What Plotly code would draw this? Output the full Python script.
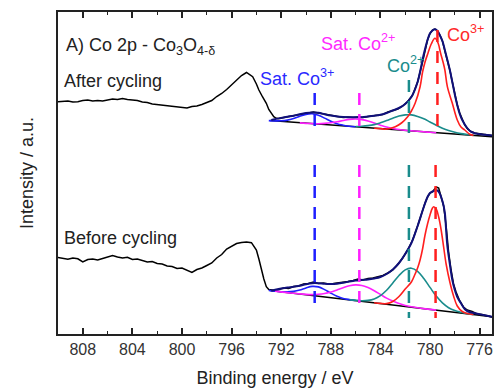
import plotly.graph_objects as go

# ---------------- data (binding energy in eV, intensity in a.u.) ----------------
# Before cycling: raw spectrum
be_raw_before = [810.0, 809.6, 809.2, 808.8, 808.4, 808.0, 807.6, 807.2, 806.8, 806.4, 806.0, 805.6,
                 805.2, 804.8, 804.4, 804.0, 803.6, 803.2, 802.8, 802.4, 802.0, 801.6, 801.2, 800.8,
                 800.4, 800.0, 799.6, 799.2, 798.8, 798.4, 798.0, 797.6, 797.2, 796.8, 796.4, 796.0,
                 795.6, 795.2, 794.8, 794.4, 794.0, 793.8, 793.6, 793.4, 793.2, 793.0, 792.6, 792.2,
                 791.8, 791.4, 791.0, 790.6, 790.2, 789.8, 789.4, 789.0, 788.6, 788.2, 787.8, 787.4,
                 787.0, 786.6, 786.2, 785.8, 785.4, 785.0, 784.6, 784.2, 783.8, 783.4, 783.0, 782.6,
                 782.2, 781.8, 781.4, 781.0, 780.6, 780.4, 780.2, 780.0, 779.8, 779.6, 779.5, 779.3,
                 779.1, 778.9, 778.7, 778.5, 778.3, 778.1, 777.9, 777.6, 777.3, 777.0, 776.6, 776.2,
                 775.8, 775.4, 775.0]
int_raw_before = [76.5, 75.5, 74.7, 76.0, 75.2, 72.0, 74.5, 75.0, 74.0, 75.5, 76.7, 78.5,
                  77.0, 76.0, 76.8, 74.5, 75.0, 73.5, 72.0, 72.5, 70.5, 70.0, 68.0, 67.5,
                  65.5, 66.0, 63.5, 61.5, 64.5, 66.0, 68.5, 71.0, 76.0, 79.5, 85.0, 88.0,
                  90.5, 91.5, 92.0, 91.3, 84.0, 75.0, 64.0, 55.0, 47.3, 44.5, 43.8, 44.5,
                  46.0, 45.5, 47.5, 48.0, 50.0, 50.5, 52.0, 50.5, 51.0, 50.0, 50.5, 51.0,
                  52.0, 52.5, 53.5, 55.0, 54.0, 55.5, 56.0, 57.5, 58.5, 61.0, 64.0, 69.5,
                  76.0, 84.0, 94.0, 108.0, 124.0, 131.0, 137.0, 141.0, 142.0, 145.0, 147.0, 146.0,
                  138.0, 128.0, 108.0, 82.0, 64.0, 50.0, 42.0, 33.0, 27.0, 24.0, 22.5, 20.0,
                  19.5, 18.0, 17.0]

# Before cycling: fit envelope
be_env_before = [792.8, 792.4, 792.0, 791.5, 791.0, 790.5, 790.0, 789.5, 789.0, 788.5, 788.0, 787.5,
                 787.0, 786.5, 786.0, 785.5, 785.0, 784.5, 784.0, 783.5, 783.0, 782.5, 782.0, 781.5,
                 781.0, 780.5, 780.2, 780.0, 779.7, 779.4, 779.2, 779.0, 778.9, 778.8, 778.7, 778.6,
                 778.4, 778.2, 778.0, 777.8, 777.5, 777.2, 777.0, 776.5, 776.0, 775.5, 775.0]
int_env_before = [43.3, 44.5, 45.5, 46.5, 47.2, 48.3, 49.8, 50.8, 50.8, 50.2, 50.0, 50.3,
                  51.2, 52.5, 53.5, 54.0, 54.5, 55.5, 57.0, 60.0, 64.5, 71.0, 80.0, 91.0,
                  108.0, 127.0, 137.0, 141.0, 143.0, 143.5, 140.0, 133.0, 128.0, 121.0, 104.0, 88.0,
                  70.0, 54.0, 44.0, 37.0, 30.7, 25.0, 23.0, 21.0, 19.8, 18.5, 17.3]

# Before cycling: background
be_bg_before = [792.9, 775.0]
int_bg_before = [43.5, 17.3]

# Before cycling: components
be_sat3_before = [793.0, 792.5, 792.0, 791.5, 791.0, 790.5, 790.0, 789.5, 789.0, 788.5, 788.0, 787.5,
                  787.0, 786.5, 786.0]
int_sat3_before = [43.6, 42.9, 42.3, 42.1, 42.6, 44.0, 46.1, 47.6, 47.1, 44.4, 40.9, 37.8,
                   35.6, 34.4, 33.5]

be_sat2_before = [792.5, 791.5, 791.0, 790.5, 790.0, 789.5, 789.0, 788.5, 788.0, 787.5, 787.0, 786.5,
                  786.0, 785.5, 785.0, 784.5, 784.0, 783.5, 783.0, 782.5, 782.0, 781.5, 781.0, 780.5,
                  780.0, 779.5]
int_sat2_before = [42.9, 41.4, 40.8, 40.1, 39.6, 39.4, 39.7, 40.5, 42.0, 44.1, 46.3, 48.2,
                   49.1, 48.5, 46.4, 43.3, 39.6, 35.9, 32.9, 30.5, 28.6, 27.3, 26.3, 25.4,
                   24.6, 23.9]

be_co2_before = [786.5, 785.5, 785.0, 784.5, 784.0, 783.5, 783.0, 782.5, 782.0, 781.5, 781.0, 780.5,
                 780.0, 779.5, 779.0, 778.5, 778.0, 777.5, 777.0, 776.5]
int_co2_before = [34.1, 33.3, 33.6, 35.1, 38.4, 43.7, 51.0, 58.5, 64.1, 65.8, 62.7, 55.5,
                  46.6, 37.9, 31.1, 26.3, 23.4, 21.7, 20.4, 19.5]

be_co3_before = [784.5, 784.0, 783.5, 783.0, 782.5, 782.0, 781.5, 781.2, 781.0, 780.8, 780.6, 780.4,
                 780.2, 780.0, 779.8, 779.7, 779.5, 779.3, 779.1, 778.9, 778.7, 778.4, 778.1, 777.8,
                 777.4, 777.0, 776.5]
int_co3_before = [31.2, 30.6, 30.4, 32.5, 37.5, 45.0, 52.0, 60.0, 66.0, 74.0, 85.0, 99.0,
                  110.0, 119.0, 126.0, 127.3, 125.0, 117.0, 104.0, 87.0, 70.0, 52.0, 38.0, 28.0,
                  22.5, 20.5, 19.6]

# After cycling: raw spectrum
be_raw_after = [810.0, 809.6, 809.2, 808.8, 808.4, 808.0, 807.6, 807.2, 806.8, 806.4, 806.0, 805.6,
                805.2, 804.8, 804.4, 804.0, 803.6, 803.2, 802.8, 802.4, 802.0, 801.6, 801.2, 800.8,
                800.4, 800.0, 799.6, 799.2, 798.8, 798.4, 798.0, 797.6, 797.2, 796.8, 796.4, 796.0,
                795.6, 795.2, 794.8, 794.3, 794.0, 793.8, 793.5, 793.2, 793.0, 792.8, 792.6, 792.4,
                792.2, 791.8, 791.4, 791.0, 790.6, 790.2, 789.8, 789.4, 789.0, 788.6, 788.2, 787.8,
                787.4, 787.0, 786.6, 786.2, 785.8, 785.4, 785.0, 784.6, 784.2, 783.8, 783.4, 783.0,
                782.6, 782.2, 781.8, 781.4, 781.0, 780.6, 780.4, 780.2, 780.0, 779.8, 779.6, 779.4,
                779.2, 779.0, 778.8, 778.6, 778.4, 778.2, 778.0, 777.8, 777.6, 777.4, 777.2, 777.0,
                776.7, 776.4, 776.0, 775.6, 775.3, 775.0]
int_raw_after = [232.3, 232.5, 233.0, 232.0, 232.3, 233.5, 234.0, 233.0, 233.5, 233.0, 234.0, 235.0,
                 234.5, 235.5, 234.5, 234.0, 233.5, 232.0, 231.5, 230.0, 229.5, 229.0, 228.0, 227.5,
                 227.0, 226.7, 226.0, 227.5, 228.0, 229.5, 231.5, 233.5, 237.5, 240.5, 244.5, 249.5,
                 254.0, 258.5, 261.5, 257.3, 250.0, 244.0, 237.0, 230.7, 224.5, 220.7, 217.3, 215.7,
                 215.5, 216.5, 217.5, 218.5, 219.5, 220.5, 221.0, 222.0, 221.0, 220.0, 219.5, 218.0,
                 217.5, 216.5, 217.0, 216.5, 217.0, 216.5, 217.5, 218.0, 219.0, 219.5, 222.0, 223.5,
                 225.0, 228.0, 232.5, 239.0, 252.0, 272.0, 284.0, 294.0, 300.5, 304.0, 305.0, 303.0,
                 299.0, 293.0, 283.0, 274.0, 264.0, 252.0, 240.0, 229.0, 221.0, 214.5, 209.0, 205.5,
                 202.5, 201.0, 200.0, 199.5, 199.0, 198.5]

# After cycling: fit envelope
be_env_after = [792.8, 792.5, 792.0, 791.5, 791.0, 790.5, 790.0, 789.5, 789.0, 788.5, 788.0, 787.5,
                787.0, 786.5, 786.0, 785.5, 785.0, 784.5, 784.0, 783.5, 783.0, 782.5, 782.0, 781.5,
                781.0, 780.5, 780.2, 780.0, 779.8, 779.6, 779.4, 779.2, 779.0, 778.7, 778.4, 778.2,
                777.9, 777.6, 777.4, 777.0, 776.7, 776.3, 775.8, 775.4, 775.0]
int_env_after = [214.0, 214.8, 216.0, 217.3, 218.3, 219.8, 221.0, 221.6, 221.2, 219.8, 218.5, 217.5,
                 217.0, 216.8, 216.7, 216.8, 217.5, 218.3, 219.3, 221.0, 223.5, 226.0, 230.0, 237.0,
                 252.0, 280.0, 294.0, 300.7, 303.5, 304.7, 303.0, 298.5, 293.0, 279.0, 264.0, 252.0,
                 234.0, 220.0, 214.0, 206.0, 202.3, 200.5, 199.5, 199.0, 198.5]

# After cycling: background
be_bg_after = [792.9, 775.0]
int_bg_after = [213.4, 197.3]

# After cycling: components
be_sat3_after = [793.0, 792.5, 792.0, 791.5, 791.0, 790.5, 790.0, 789.5, 789.0, 788.5, 788.0, 787.5,
                 787.0, 786.5, 786.0]
int_sat3_after = [213.4, 213.1, 213.2, 213.9, 215.5, 217.7, 219.6, 220.2, 218.7, 215.9, 212.8, 210.3,
                  208.8, 207.7, 207.2]

be_sat2_after = [790.5, 790.0, 789.5, 789.0, 788.5, 788.0, 787.5, 787.0, 786.5, 786.0, 785.5, 785.0,
                 784.5, 784.0, 783.5, 783.0, 782.5, 782.0, 781.5, 781.0, 780.5, 780.0, 779.5]
int_sat2_after = [211.1, 210.6, 210.4, 210.3, 210.6, 211.2, 212.2, 213.5, 214.6, 215.0, 214.4, 213.0,
                  210.9, 208.8, 206.9, 205.5, 204.5, 203.7, 203.2, 202.7, 202.2, 201.7, 201.3]

be_co2_after = [786.0, 785.5, 785.0, 784.5, 784.0, 783.5, 783.0, 782.5, 782.0, 781.5, 781.0, 780.5,
                780.0, 779.5, 779.0, 778.5, 778.0, 777.5, 777.0, 776.5]
int_co2_after = [207.5, 207.8, 208.4, 209.4, 211.2, 213.4, 215.8, 217.9, 219.1, 219.1, 217.6, 215.2,
                 212.0, 208.8, 205.8, 203.4, 201.7, 200.4, 199.5, 198.7]

be_co3_after = [784.5, 784.0, 783.6, 782.8, 782.3, 781.8, 781.5, 781.2, 780.8, 780.6, 780.4, 780.16,
                779.9, 779.6, 779.35, 779.15, 778.95, 778.8, 778.6, 778.2, 777.8, 777.5, 777.2, 776.8,
                776.5]
int_co3_after = [205.7, 205.4, 204.8, 207.3, 211.0, 217.3, 223.0, 230.7, 247.3, 262.0, 272.0, 281.0,
                 290.0, 295.7, 291.0, 281.0, 272.0, 264.0, 247.3, 230.7, 214.0, 207.0, 204.0, 199.8,
                 198.6]

# Peak position markers (dashed lines): energy, top and bottom of each segment
marker_colors = ["#1f1fff", "#ff1fff", "#1a8c8c", "#ff1f1f"]
marker_be_before = [789.3, 785.7, 781.7, 779.55]
marker_top_before = [169, 169, 169, 169]
marker_bot_before = [22, 22, 16, 16]
marker_be_after = [789.3, 785.7, 781.7, 779.4]
marker_top_after = [241, 241, 254, 304]
marker_bot_after = [206, 206, 201, 202]

# Tick values
x_tickvals = [808, 804, 800, 796, 792, 788, 784, 780, 776]

# ---------------- figure ----------------
NAVY = "#10107a"
fig = go.Figure()


def add_line(x, y, color, width, dash=None, shape="spline"):
    line = dict(color=color, width=width, shape=shape)
    if dash:
        line["dash"] = dash
    fig.add_trace(go.Scatter(x=x, y=y, mode="lines", line=line, hoverinfo="skip", showlegend=False))


for raw_x, raw_y in [(be_raw_after, int_raw_after), (be_raw_before, int_raw_before)]:
    add_line(raw_x, raw_y, "black", 1.5, shape="linear")

for bx, by in [(be_bg_after, int_bg_after), (be_bg_before, int_bg_before)]:
    add_line(bx, by, "black", 1.5, shape="linear")

comps = [
    (be_sat3_after, int_sat3_after, marker_colors[0]),
    (be_sat2_after, int_sat2_after, marker_colors[1]),
    (be_co2_after, int_co2_after, marker_colors[2]),
    (be_co3_after, int_co3_after, marker_colors[3]),
    (be_sat3_before, int_sat3_before, marker_colors[0]),
    (be_sat2_before, int_sat2_before, marker_colors[1]),
    (be_co2_before, int_co2_before, marker_colors[2]),
    (be_co3_before, int_co3_before, marker_colors[3]),
]
for cx, cy, col in comps:
    add_line(cx, cy, col, 1.6)

add_line(be_env_after, int_env_after, NAVY, 2.0)
add_line(be_env_before, int_env_before, NAVY, 2.0)

for i, col in enumerate(marker_colors):
    add_line([marker_be_before[i]] * 2, [marker_top_before[i], marker_bot_before[i]], col, 2.5,
             dash="12px,9px", shape="linear")
    add_line([marker_be_after[i]] * 2, [marker_top_after[i], marker_bot_after[i]], col, 2.5,
             dash="12px,9px", shape="linear")

FONT = "Liberation Sans, Arial, sans-serif"

annotations = [
    dict(x=809.5, y=288, text="A) Co 2p - Co<sub>3</sub>O<sub>4-δ</sub>", color="#222222"),
    dict(x=809.7, y=253, text="After cycling", color="#222222"),
    dict(x=809.7, y=96.5, text="Before cycling", color="#222222"),
    dict(x=793.9, y=257, text="Sat. Co<sup>3+</sup>", color="#2a2aff"),
    dict(x=788.96, y=291.5, text="Sat. Co<sup>2+</sup>", color="#ff2aff"),
    dict(x=783.6, y=270, text="Co<sup>2+</sup>", color="#1a8c8c"),
    dict(x=778.8, y=301, text="Co<sup>3+</sup>", color="#ff2a2a"),
]
for a in annotations:
    fig.add_annotation(x=a["x"], y=a["y"], xref="x", yref="y", text=a["text"], showarrow=False,
                       xanchor="left", yanchor="middle", font=dict(family=FONT, size=18, color=a["color"]))

fig.update_layout(
    width=495, height=389,
    margin=dict(l=58, r=1, t=12, b=55),
    paper_bgcolor="white", plot_bgcolor="white",
    showlegend=False,
    font=dict(family=FONT, size=16, color="#333333"),
)
fig.update_xaxes(
    range=[810, 775], tickvals=x_tickvals, ticks="inside", ticklen=6, tickwidth=1.5,
    tickcolor="#222222", showline=True, linecolor="#222222", linewidth=1.5, mirror="allticks",
    showgrid=False, zeroline=False, tickfont=dict(size=16, color="#333333"),
    minor=dict(dtick=2, tick0=776, ticks="inside", ticklen=3, tickwidth=1.2, tickcolor="#222222"),
    title=dict(text="Binding energy / eV", font=dict(size=18, color="#222222"), standoff=14),
)
fig.update_yaxes(
    range=[0, 322], showticklabels=False, ticks="", showline=True, linecolor="#222222",
    linewidth=1.5, mirror=True, showgrid=False, zeroline=False,
    title=dict(text="Intensity / a.u.", font=dict(size=18, color="#222222"), standoff=18),
)

fig.write_html("out.html")
